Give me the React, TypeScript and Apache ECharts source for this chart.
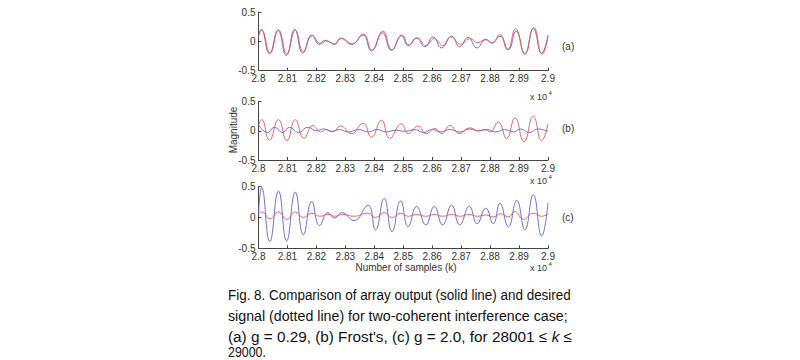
import React, { useEffect, useRef } from "react";
import * as echarts from "echarts";

// sample index k (x) and magnitude (y), read at the turning points of each trace
const outputA: [number, number][] = [
  [28000, 0.10], [28009, 0.21], [28038, -0.21], [28067, 0.19], [28096, -0.24], [28125, 0.21],
  [28153, -0.20], [28184, 0.11], [28211, -0.05], [28228, 0.02], [28245, -0.01], [28263, -0.05],
  [28284, 0.06], [28321, -0.05], [28361, 0.11], [28390, -0.16], [28428, 0.15], [28459, -0.15],
  [28494, 0.10], [28517, -0.07], [28546, 0.06], [28574, -0.09], [28603, 0.08], [28632, -0.11],
  [28667, 0.09], [28695, -0.09], [28724, 0.07], [28755, -0.11], [28785, 0.03], [28805, -0.02],
  [28834, 0.09], [28863, -0.14], [28890, 0.18], [28920, -0.21], [28949, 0.22], [28978, -0.20],
  [29000, 0.11],
];
const desiredA: [number, number][] = [
  [28000, 0.08], [28011, 0.19], [28040, -0.20], [28069, 0.20], [28098, -0.21], [28127, 0.19],
  [28155, -0.17], [28186, 0.10], [28214, -0.03], [28238, 0.01], [28260, -0.04], [28287, 0.05],
  [28323, -0.04], [28362, 0.13], [28392, -0.15], [28430, 0.18], [28461, -0.14], [28496, 0.11],
  [28520, -0.06], [28549, 0.06], [28578, -0.07], [28607, 0.05], [28636, -0.07], [28665, 0.08],
  [28698, -0.05], [28730, 0.05], [28758, -0.02], [28785, 0.04], [28808, -0.03], [28833, 0.12],
  [28860, -0.14], [28888, 0.22], [28920, -0.22], [28951, 0.24], [28980, -0.22], [29000, 0.08],
];
const outputB: [number, number][] = [
  [28000, 0.10], [28032, -0.03], [28055, 0.06], [28084, -0.03], [28107, 0.06], [28138, -0.03],
  [28171, 0.06], [28200, 0.0], [28225, 0.03], [28252, -0.01], [28280, 0.02], [28310, -0.02],
  [28345, 0.02], [28380, -0.02], [28410, 0.02], [28440, -0.02], [28475, 0.01], [28505, -0.01],
  [28540, 0.02], [28570, -0.03], [28600, 0.02], [28630, -0.02], [28660, 0.02], [28695, -0.02],
  [28730, 0.03], [28760, 0.0], [28790, 0.02], [28820, -0.02], [28850, 0.02], [28880, -0.02],
  [28905, 0.03], [28935, -0.03], [28965, 0.03], [29000, -0.01],
];
const desiredB: [number, number][] = [
  [28000, 0.09], [28011, 0.19], [28038, -0.16], [28069, 0.19], [28098, -0.17], [28127, 0.19],
  [28157, -0.13], [28188, 0.09], [28215, -0.02], [28235, 0.02], [28256, -0.02], [28284, 0.08],
  [28321, -0.05], [28361, 0.13], [28390, -0.11], [28425, 0.18], [28453, -0.13], [28494, 0.12],
  [28517, -0.05], [28551, 0.08], [28580, -0.05], [28609, 0.04], [28633, -0.05], [28661, 0.09],
  [28695, -0.05], [28730, 0.05], [28758, 0.0], [28782, 0.02], [28800, -0.02], [28828, 0.15],
  [28857, -0.13], [28886, 0.22], [28917, -0.19], [28949, 0.25], [28978, -0.17], [29000, 0.12],
];
const outputC: [number, number][] = [
  [28000, 0.06], [28011, 0.49], [28039, -0.39], [28069, 0.43], [28097, -0.38], [28127, 0.41],
  [28155, -0.28], [28184, 0.26], [28211, -0.13], [28240, 0.08], [28263, -0.01], [28288, 0.08],
  [28330, -0.05], [28378, 0.20], [28404, -0.20], [28434, 0.31], [28461, -0.23], [28491, 0.27],
  [28517, -0.15], [28546, 0.18], [28578, -0.12], [28607, 0.18], [28636, -0.12], [28667, 0.20],
  [28695, -0.12], [28728, 0.18], [28755, -0.10], [28785, 0.15], [28811, -0.10], [28834, 0.23],
  [28863, -0.15], [28892, 0.28], [28920, -0.20], [28949, 0.37], [28978, -0.30], [29000, 0.24],
];
const desiredC: [number, number][] = [
  [28000, 0.06], [28011, 0.09], [28040, -0.02], [28069, 0.09], [28098, -0.03], [28127, 0.09],
  [28155, 0.0], [28184, 0.07], [28212, 0.02], [28240, 0.05], [28265, 0.02], [28290, 0.05],
  [28330, 0.02], [28378, 0.07], [28404, 0.0], [28434, 0.08], [28461, 0.0], [28491, 0.07],
  [28517, 0.02], [28546, 0.05], [28578, 0.02], [28607, 0.05], [28636, 0.02], [28667, 0.05],
  [28697, 0.02], [28728, 0.05], [28756, 0.02], [28785, 0.04], [28811, 0.01], [28836, 0.06],
  [28863, 0.01], [28885, 0.10], [28915, -0.03], [28949, 0.07], [28978, 0.02], [29000, 0.06],
];

const xMin = 28000;
const xMax = 29000;
const xStep = 100;
const yMin = -0.5;
const yMax = 0.5;
const yStep = 0.5;
const panelLabels = ["(a)", "(b)", "(c)"];
const yAxisTitle = "Magnitude";
const xAxisTitle = "Number of samples (k)";
const captionLines = [
  "Fig. 8. Comparison of array output (solid line) and desired",
  "signal (dotted line) for two-coherent interference case;",
  "(a) g = 0.29, (b) Frost's, (c) g = 2.0, for 28001 ≤ {i|k} ≤",
  "29000.",
];

const panels = [
  { output: outputA, desired: desiredA },
  { output: outputB, desired: desiredB },
  { output: outputC, desired: desiredC },
];

// layout
const gridBoxes = [
  { left: 258.5, top: 12.3, width: 289.5, height: 58.4 },
  { left: 258.5, top: 101.5, width: 289.5, height: 58.5 },
  { left: 258.5, top: 186.7, width: 289.5, height: 61.6 },
];
const expY = [97, 181, 268];
const labelY = [46, 128, 217];
const captionX = 228;
const captionY = [295, 315.5, 336, 351.8];
const captionWidth = [343, 340, 344, 38];
const captionFontSize = 15.5;

const BLUE = "#6060d0";
const RED = "#e25858";
const AXIS = "#444";
const LABEL = "#333";
const FONT = "Liberation Sans, Arial, sans-serif";

function measure(text: string, font: string): number {
  const c = document.createElement("canvas").getContext("2d");
  if (!c) return text.length * 7;
  c.font = font;
  return c.measureText(text).width;
}

export default function App() {
  const ref = useRef<HTMLDivElement>(null);
  useEffect(() => {
    if (!ref.current) return;
    const chart = echarts.init(ref.current, undefined, { renderer: "svg" });

    const xAxes = gridBoxes.map((_, i) => ({
      type: "value",
      gridIndex: i,
      min: xMin,
      max: xMax,
      interval: xStep,
      axisLine: { show: true, onZero: false, lineStyle: { color: AXIS, width: 1 } },
      axisTick: { show: true, inside: true, length: 3, lineStyle: { color: AXIS } },
      axisLabel: {
        color: LABEL,
        fontSize: 10,
        fontFamily: FONT,
        margin: 3,
        formatter: (v: number) => String(+(v / 10000).toFixed(2)),
      },
      splitLine: { show: false },
    }));
    const yAxes = gridBoxes.map((_, i) => ({
      type: "value",
      gridIndex: i,
      min: yMin,
      max: yMax,
      interval: yStep,
      axisLine: { show: true, lineStyle: { color: AXIS, width: 1 } },
      axisTick: { show: true, inside: true, length: 3, lineStyle: { color: AXIS } },
      axisLabel: { color: LABEL, fontSize: 10, fontFamily: FONT, margin: 3 },
      splitLine: { show: false },
    }));

    const series: any[] = [];
    panels.forEach((p, i) => {
      series.push({
        type: "line",
        xAxisIndex: i,
        yAxisIndex: i,
        data: p.output,
        showSymbol: false,
        smooth: 0.5,
        lineStyle: { color: BLUE, width: 0.9 },
        z: 2,
      });
      series.push({
        type: "line",
        xAxisIndex: i,
        yAxisIndex: i,
        data: p.desired,
        showSymbol: false,
        smooth: 0.5,
        lineStyle: { color: RED, width: 0.9 },
        z: 3,
      });
    });

    const graphics: any[] = [];
    expY.forEach((y) => {
      graphics.push({
        type: "text",
        x: 530,
        y,
        style: { text: "x 10", fontSize: 9, fontFamily: FONT, fill: LABEL, textAlign: "left", textVerticalAlign: "middle" },
      });
      graphics.push({
        type: "text",
        x: 548.5,
        y: y - 4,
        style: { text: "4", fontSize: 6, fontFamily: FONT, fill: LABEL, textAlign: "left", textVerticalAlign: "middle" },
      });
    });
    panelLabels.forEach((t, i) => {
      graphics.push({
        type: "text",
        x: 562,
        y: labelY[i],
        style: { text: t, fontSize: 10, fontFamily: FONT, fill: LABEL, textAlign: "left", textVerticalAlign: "middle" },
      });
    });
    graphics.push({
      type: "text",
      x: 233,
      y: 130,
      rotation: Math.PI / 2,
      style: { text: yAxisTitle, fontSize: 10, fontFamily: FONT, fill: LABEL, textAlign: "center", textVerticalAlign: "middle" },
    });
    graphics.push({
      type: "text",
      x: 406,
      y: 267.5,
      style: { text: xAxisTitle, fontSize: 10, fontFamily: FONT, fill: LABEL, textAlign: "center", textVerticalAlign: "middle" },
    });
    const capFont = `${captionFontSize}px Liberation Sans, Arial, sans-serif`;
    captionLines.forEach((t, i) => {
      const plain = t.replace(/\{i\|(.*?)\}/g, "$1");
      const w = measure(plain, capFont);
      const sx = w > 0 ? captionWidth[i] / w : 0.85;
      graphics.push({
        type: "text",
        x: captionX,
        y: captionY[i],
        scaleX: sx,
        style: {
          text: t,
          fontSize: captionFontSize,
          fontFamily: "Liberation Sans, Arial, sans-serif",
          fill: "#111",
          textAlign: "left",
          textVerticalAlign: "middle",
          rich: {
            i: { fontStyle: "italic", fontSize: captionFontSize, fontFamily: "Liberation Sans, Arial, sans-serif", fill: "#111" },
          },
        },
      });
    });

    chart.setOption({
      animation: false,
      backgroundColor: "#fff",
      grid: gridBoxes.map((g) => ({ ...g, containLabel: false })),
      xAxis: xAxes,
      yAxis: yAxes,
      series,
      graphic: graphics,
    });
    return () => chart.dispose();
  }, []);
  return <div ref={ref} style={{ position: "fixed", left: 0, top: 0, width: 800, height: 360 }} />;
}
